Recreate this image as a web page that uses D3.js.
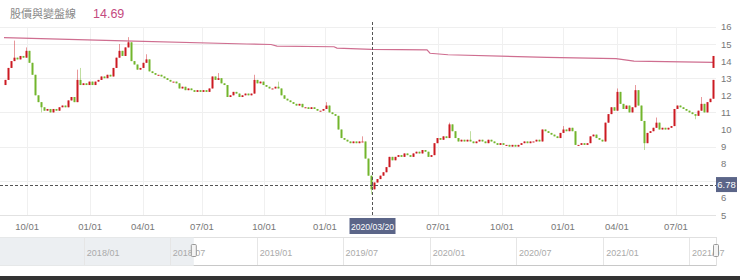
<!DOCTYPE html>
<html>
<head>
<meta charset="utf-8">
<script src="https://cdn.jsdelivr.net/npm/d3@7"></script>
<style>
  body { margin: 0; background: #fff; }
  svg { display: block; font-family: "Liberation Sans", Arial, sans-serif; }
</style>
</head>
<body>
<script>
// closing prices, one candle per ~2 trading days (open = previous close)
const firstOpen = 12.6;
const closes = [
  12.9, 13.6, 14.0, 14.2, 14.1, 14.3, 14.2, 14.6, 13.9, 13.2,
  12.0, 11.6, 11.3, 11.1, 11.2, 11.0, 11.2, 11.1, 11.3, 11.4,
  11.3, 11.7, 11.9, 11.6, 12.9, 12.6, 12.7, 12.6, 12.8, 12.6,
  12.8, 12.9, 13.1, 13.0, 13.2, 13.1, 13.6, 14.2, 14.6, 14.3,
  14.8, 15.1, 14.0, 13.8, 13.5, 13.6, 13.9, 14.1, 13.4, 13.3,
  13.2, 13.2, 13.1, 13.0, 12.9, 12.8, 12.8, 12.7, 12.4, 12.5,
  12.3, 12.4, 12.3, 12.2, 12.3, 12.2, 12.3, 12.2, 12.4, 13.1,
  12.9, 13.0, 12.7, 12.6, 11.9, 12.0, 12.2, 12.1, 11.9, 12.0,
  12.1, 12.0, 12.1, 12.9, 12.7, 12.8, 12.6, 12.5, 12.4, 12.4,
  12.5, 12.4, 12.0, 11.8, 11.7, 11.6, 11.5, 11.4, 11.5, 11.3,
  11.3, 11.2, 11.3, 11.2, 11.1, 11.1, 11.2, 11.4, 11.0, 10.9,
  10.8, 10.0, 9.5, 9.4, 9.3, 9.2, 9.3, 9.2, 9.3, 9.3,
  8.3, 7.3, 6.5, 6.9, 7.1, 7.3, 7.5, 7.8, 8.4, 8.2,
  8.4, 8.5, 8.4, 8.6, 8.5, 8.4, 8.6, 8.7, 8.6, 8.8,
  8.7, 8.4, 8.5, 9.2, 9.5, 9.4, 9.6, 9.5, 10.3, 9.9,
  9.5, 9.3, 9.4, 9.3, 9.4, 9.3, 9.2, 9.3, 9.4, 9.3,
  9.2, 9.4, 9.3, 9.2, 9.1, 9.2, 9.1, 9.1, 9.0, 9.1,
  9.0, 9.1, 9.2, 9.3, 9.2, 9.3, 9.3, 9.4, 9.3, 10.0,
  9.9, 9.8, 9.7, 9.6, 9.5, 9.8, 10.0, 9.9, 10.1, 9.9,
  9.1, 9.1, 9.2, 9.1, 9.2, 9.6, 9.7, 9.5, 9.4, 9.3,
  10.4, 10.9, 11.3, 11.1, 12.2, 11.5, 11.2, 11.4, 11.0, 11.3,
  12.3, 11.4, 10.5, 9.2, 9.8, 9.9, 10.1, 10.4, 10.0, 10.1,
  10.0, 10.1, 10.2, 11.2, 11.4, 11.3, 11.2, 11.1, 11.0, 10.9,
  10.8, 11.1, 11.5, 11.0, 11.6, 11.8, 12.9
];
// long wicks [candle, price]
const highs = [[3, 15.2], [7, 14.8], [24, 13.5], [25, 13.6], [38, 15.0], [41, 15.4], [47, 14.4],
  [71, 13.3], [83, 13.2], [91, 12.8], [107, 11.6], [119, 9.6], [148, 10.4], [155, 9.9],
  [186, 10.2], [204, 12.4], [210, 12.6], [217, 10.7], [232, 11.9]];
const lows = [[12, 11.0], [122, 6.2], [213, 8.8], [230, 10.6]];
const lastBar = [13.6, 14.3];

// 變盤線
const lineIdx = [0, 40, 81, 89, 91, 110, 111, 122.5, 141, 142, 148, 181, 204, 210, 236.5];
const lineVal = [15.37, 15.18, 15.0, 14.97, 14.88, 14.84, 14.76, 14.69, 14.66, 14.46, 14.37, 14.22, 14.14, 14.0, 13.93];

const tickIdx = [7.7, 28.7, 46.3, 66, 86.7, 107, 144.7, 166, 186.3, 204.3, 224];
const tickLabels = ['10/01', '01/01', '04/01', '07/01', '10/01', '01/01', '07/01', '10/01', '01/01', '04/01', '07/01'];
const yTicks = [5, 6, 8, 9, 10, 11, 12, 13, 14, 15, 16];
const gridVals = [7, 9, 11, 13, 15, 16];

const refPrice = 6.78;
const crossIdx = 122.5;
const crossLabel = '2020/03/20';
const headerTitle = '股價與變盤線';
const headerValue = '14.69';

const navStart = new Date(2017, 6, 8);
const navEnd = new Date(2021, 7, 27);
const selStart = new Date(2018, 7, 21);

const width = 740;
const height = 280;
const red = '#cc1a22';
const green = '#72b52c';

const svg = d3.select('body').append('svg')
  .attr('width', width)
  .attr('height', height);

const x = d3.scaleLinear().domain([0, closes.length]).range([4, 715]);
const y = d3.scaleLinear().domain([5, 16]).range([215, 26.9]);

// header
svg.append('text')
  .attr('x', 10).attr('y', 18)
  .attr('font-family', '"Noto Sans CJK TC", sans-serif')
  .attr('font-size', 11).attr('fill', '#888')
  .text(headerTitle);
svg.append('text')
  .attr('x', 93).attr('y', 18)
  .attr('font-size', 12.5).attr('fill', '#c44a80')
  .text(headerValue);

// grid
svg.append('g').selectAll('line')
  .data(gridVals)
  .join('line')
  .attr('x1', 0).attr('x2', 716)
  .attr('y1', d => Math.round(y(d)) + 0.5).attr('y2', d => Math.round(y(d)) + 0.5)
  .attr('stroke', '#efefef');
svg.append('g').selectAll('line')
  .data(tickIdx)
  .join('line')
  .attr('x1', d => Math.round(x(d)) + 0.5).attr('x2', d => Math.round(x(d)) + 0.5)
  .attr('y1', y(16)).attr('y2', y(5))
  .attr('stroke', '#f0f0f0');
svg.append('line')
  .attr('x1', 0).attr('x2', 716)
  .attr('y1', Math.round(y(5)) + 0.5).attr('y2', Math.round(y(5)) + 0.5)
  .attr('stroke', '#e2e2e2');

// y axis labels
svg.append('g').selectAll('text')
  .data(yTicks)
  .join('text')
  .attr('x', 721).attr('y', d => y(d) + 3.5)
  .attr('font-size', 9.5).attr('fill', '#777')
  .text(d => d);

// x axis labels
svg.append('g').selectAll('text')
  .data(tickIdx)
  .join('text')
  .attr('x', d => x(d)).attr('y', 230)
  .attr('text-anchor', 'middle')
  .attr('font-size', 9.5).attr('fill', '#777')
  .text((d, i) => tickLabels[i]);

// candles
const hi = new Map(highs);
const lo = new Map(lows);
const candles = closes.map((c, i) => {
  const o = i ? closes[i - 1] : firstOpen;
  return {
    i, o, c,
    h: Math.max(o, c, hi.get(i) || 0),
    l: Math.min(o, c, lo.get(i) || 99)
  };
});

const g = svg.append('g');
g.selectAll('line')
  .data(candles)
  .join('line')
  .attr('x1', d => x(d.i) + 1.5).attr('x2', d => x(d.i) + 1.5)
  .attr('y1', d => y(d.h)).attr('y2', d => y(d.l))
  .attr('stroke', d => d.c >= d.o ? red : green)
  .attr('stroke-opacity', 0.45);
g.selectAll('rect')
  .data(candles)
  .join('rect')
  .attr('x', d => x(d.i) + 0.5)
  .attr('width', 2)
  .attr('y', d => y(Math.max(d.o, d.c)))
  .attr('height', d => Math.max(1, Math.abs(y(d.o) - y(d.c))))
  .attr('fill', d => d.c >= d.o ? red : green);

// 變盤線
const line = d3.line()
  .x((d, i) => x(lineIdx[i]))
  .y(d => y(d));
svg.append('path')
  .datum(lineVal)
  .attr('fill', 'none')
  .attr('stroke', '#cf6e90')
  .attr('stroke-width', 1.2)
  .attr('d', line);

svg.append('rect')
  .attr('x', x(closes.length - 1) + 0.5)
  .attr('width', 2)
  .attr('y', y(lastBar[1]))
  .attr('height', y(lastBar[0]) - y(lastBar[1]))
  .attr('fill', red);

// reference price line
svg.append('line')
  .attr('x1', 0).attr('x2', 716)
  .attr('y1', Math.round(y(refPrice)) + 0.5).attr('y2', Math.round(y(refPrice)) + 0.5)
  .attr('stroke', '#555').attr('stroke-dasharray', '3,2');
svg.append('rect')
  .attr('x', 716).attr('y', y(refPrice) - 7.5)
  .attr('width', 21).attr('height', 15)
  .attr('fill', '#5b6588');
svg.append('text')
  .attr('x', 726.5).attr('y', y(refPrice) + 3.5)
  .attr('text-anchor', 'middle')
  .attr('font-size', 9.5).attr('fill', '#fff')
  .text(refPrice);

// crosshair
const cx = Math.round(x(crossIdx)) + 0.5;
svg.append('line')
  .attr('x1', cx).attr('x2', cx)
  .attr('y1', 22).attr('y2', y(5))
  .attr('stroke', '#555').attr('stroke-dasharray', '3,2');
svg.append('rect')
  .attr('x', cx - 23).attr('y', 218)
  .attr('width', 46).attr('height', 16)
  .attr('fill', '#5b6588');
svg.append('text')
  .attr('x', cx).attr('y', 229.5)
  .attr('text-anchor', 'middle')
  .attr('font-size', 8.6).attr('fill', '#fff')
  .text(crossLabel);

// navigator
const nx = d3.scaleTime().domain([navStart, navEnd]).range([0, 716]);
const nav = svg.append('g');
nav.append('rect')
  .attr('x', 0.5).attr('y', 237.5)
  .attr('width', 716).attr('height', 28)
  .attr('fill', '#fff').attr('stroke', '#e0e0e0');
nav.append('rect')
  .attr('x', 0).attr('y', 237.5)
  .attr('width', nx(selStart)).attr('height', 28)
  .attr('fill', '#eceff2');
nav.selectAll('line.sep')
  .data(nx.ticks(d3.timeMonth.every(6)))
  .join('line')
  .attr('class', 'sep')
  .attr('x1', d => Math.round(nx(d)) + 0.5).attr('x2', d => Math.round(nx(d)) + 0.5)
  .attr('y1', 238).attr('y2', 265)
  .attr('stroke', '#e6e6e6');
nav.selectAll('text')
  .data(nx.ticks(d3.timeMonth.every(6)))
  .join('text')
  .attr('x', d => nx(d) + 3).attr('y', 256)
  .attr('font-size', 9).attr('fill', '#aaa')
  .text(d3.timeFormat('%Y/%m'));
nav.append('line')
  .attr('x1', nx(selStart)).attr('x2', 716)
  .attr('y1', 265.5).attr('y2', 265.5)
  .attr('stroke', '#c8c8c8');
nav.selectAll('rect.handle')
  .data([selStart, navEnd])
  .join('rect')
  .attr('class', 'handle')
  .attr('x', d => nx(d) - 2.5).attr('y', 244.5)
  .attr('width', 5).attr('height', 12)
  .attr('rx', 1)
  .attr('fill', '#f4f4f4').attr('stroke', '#999');

// bottom bar
svg.append('rect')
  .attr('x', 0).attr('y', 276)
  .attr('width', width).attr('height', 4)
  .attr('fill', '#333');
</script>
</body>
</html>
